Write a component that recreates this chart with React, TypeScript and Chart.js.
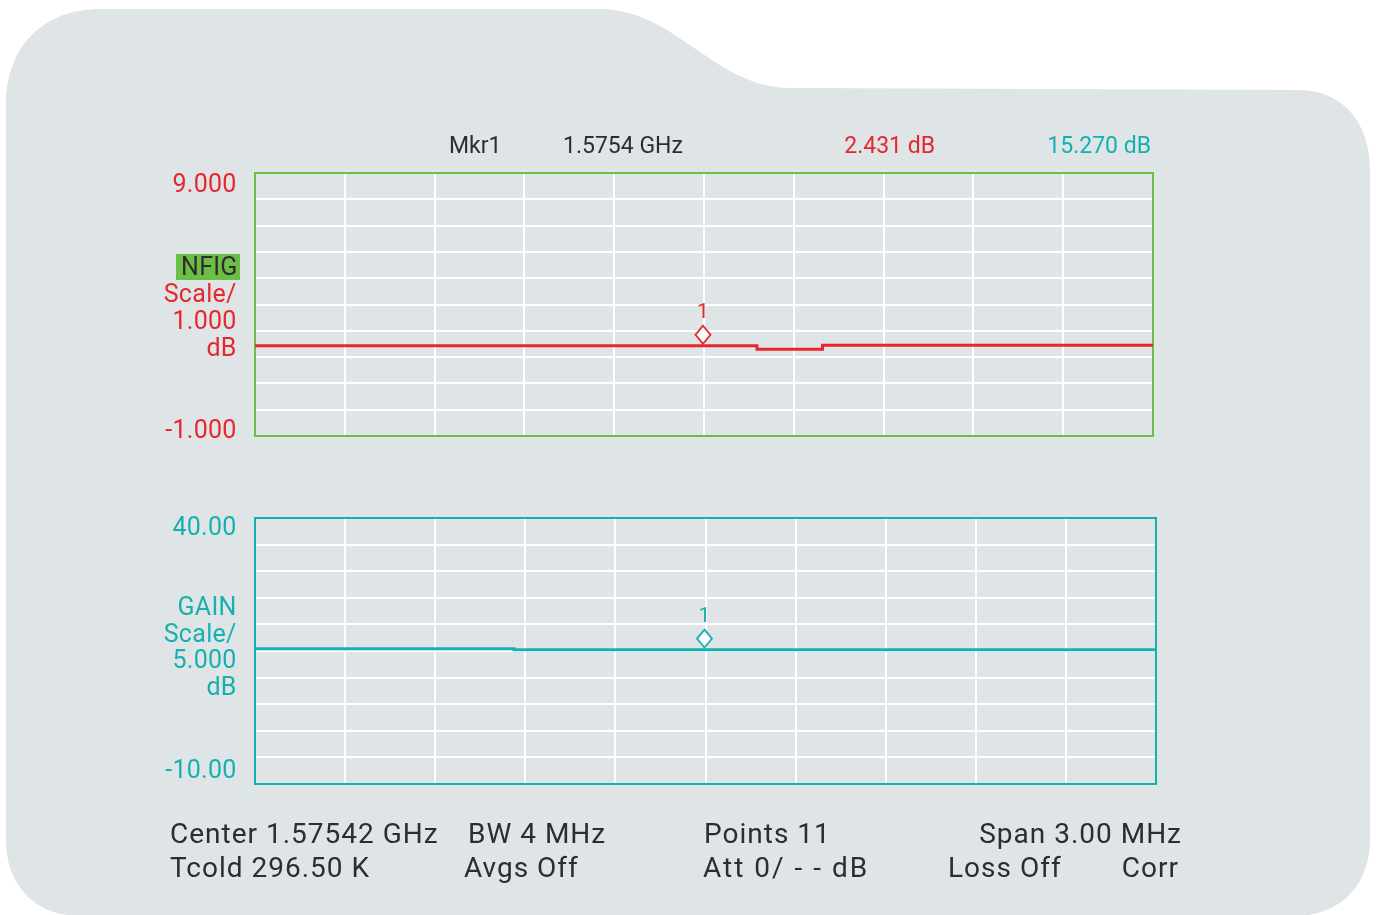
import React, { useEffect, useRef } from "react";
import { Chart, registerables } from "chart.js";

Chart.register(...registerables);

// ---------- data ----------
const xMin = 0; // point index of first sweep point
const xMax = 10; // point index of last sweep point (Points 11)
const nfigX = [0, 5.59, 6.32, 10];
const nfigY = [2.43, 2.3, 2.45, 2.45];
const gainX = [0, 2.875, 10];
const gainY = [15.4, 15.22, 15.22];
const markerIndex = 5;
const nfigMarkerValue = 2.431;
const gainMarkerValue = 15.27;
const nfigMin = -1;
const nfigMax = 9;
const nfigStep = 1;
const gainMin = -10;
const gainMax = 40;
const gainStep = 5;

const headerTexts = ["Mkr1", "1.5754 GHz", "2.431 dB", "15.270 dB"];
const nfigLabels = ["9.000", "NFIG", "Scale/", "1.000", "dB", "-1.000"];
const gainLabels = ["40.00", "GAIN", "Scale/", "5.000", "dB", "-10.00"];
const footerRow1 = ["Center 1.57542 GHz", "BW 4 MHz", "Points 11", "Span 3.00 MHz"];
const footerRow2 = ["Tcold 296.50 K", "Avgs Off", "Att 0/ - - dB", "Loss Off", "Corr"];
const markerLabel = "1";

// ---------- styles ----------
const RED = "#e8262e";
const TEAL = "#17b0b0";
const GREEN = "#6cbf45";
const DARK = "#2d2d2d";
const BG = "#dfe4e6";
const FONT = "Roboto";

function text(
  ctx: CanvasRenderingContext2D,
  s: string,
  x: number,
  cy: number,
  size: number,
  color: string,
  align: CanvasTextAlign,
  spacing = 0
) {
  ctx.save();
  ctx.font = `${size}px ${FONT}`;
  ctx.fillStyle = color;
  ctx.textAlign = align;
  ctx.textBaseline = "alphabetic";
  (ctx as any).letterSpacing = `${spacing}px`;
  const dx = align === "right" ? -spacing : 0;
  ctx.fillText(s, x + dx, cy + size * 0.355);
  ctx.restore();
}

function drawShape(ctx: CanvasRenderingContext2D) {
  ctx.save();
  ctx.fillStyle = "#ffffff";
  ctx.fillRect(0, 0, 1379, 915);
  ctx.beginPath();
  ctx.moveTo(6, 105);
  ctx.bezierCurveTo(6, 45, 45, 9, 100, 9);
  ctx.lineTo(600, 9);
  ctx.bezierCurveTo(675, 9, 715, 88, 790, 88);
  ctx.lineTo(1298, 90);
  ctx.bezierCurveTo(1345, 90, 1370, 125, 1370, 170);
  ctx.lineTo(1370, 840);
  ctx.bezierCurveTo(1370, 885, 1340, 916, 1295, 916);
  ctx.lineTo(80, 916);
  ctx.bezierCurveTo(35, 916, 6, 885, 6, 840);
  ctx.closePath();
  ctx.fillStyle = BG;
  ctx.fill();
  ctx.restore();
}

function drawBox(chart: any, color: string) {
  const { ctx, chartArea } = chart;
  ctx.save();
  ctx.strokeStyle = color;
  ctx.lineWidth = 2;
  ctx.strokeRect(chartArea.left, chartArea.top, chartArea.right - chartArea.left, chartArea.bottom - chartArea.top);
  ctx.restore();
}

function drawMarker(chart: any, value: number, color: string) {
  const { ctx } = chart;
  const cx = chart.scales.x.getPixelForValue(markerIndex) - 1;
  const cy = chart.scales.y.getPixelForValue(value) - 11;
  ctx.save();
  ctx.beginPath();
  ctx.moveTo(cx, cy - 9);
  ctx.lineTo(cx + 7.5, cy);
  ctx.lineTo(cx, cy + 9);
  ctx.lineTo(cx - 7.5, cy);
  ctx.closePath();
  ctx.fillStyle = "#ffffff";
  ctx.fill();
  ctx.strokeStyle = color;
  ctx.lineWidth = 1.8;
  ctx.stroke();
  ctx.restore();
  text(ctx, markerLabel, cx, cy - 24, 21, color, "center");
}

function scaleOpts(min: number, max: number, step: number) {
  return {
    type: "linear" as const,
    min,
    max,
    ticks: { display: false, stepSize: step },
    grid: { color: "#ffffff", lineWidth: 2, drawTicks: false },
    border: { display: false },
  };
}

export default function App() {
  const topRef = useRef<HTMLCanvasElement>(null);
  const botRef = useRef<HTMLCanvasElement>(null);

  useEffect(() => {
    document.body.style.margin = "0";
    const FS = 28;
    const LS = 1;
    const topPlugin = {
      id: "topDecor",
      beforeDraw(chart: any) {
        const ctx = chart.ctx;
        drawShape(ctx);
        // header
        text(ctx, headerTexts[0], 449, 145, 23, DARK, "left");
        text(ctx, headerTexts[1], 563, 145, 23, DARK, "left");
        text(ctx, headerTexts[2], 935, 145, 23, RED, "right");
        text(ctx, headerTexts[3], 1151, 145, 23, TEAL, "right");
        // axis labels
        const y = chart.scales.y;
        const top = y.getPixelForValue(nfigMax);
        const bot = y.getPixelForValue(nfigMin);
        ctx.save();
        ctx.fillStyle = GREEN;
        ctx.fillRect(176, 254, 64, 26);
        ctx.restore();
        text(ctx, nfigLabels[0], 237, top + 10, 25, RED, "right", 0.3);
        text(ctx, nfigLabels[1], 238, 266, 25, DARK, "right", 0.3);
        text(ctx, nfigLabels[2], 237, 293, 25, RED, "right", 0.3);
        text(ctx, nfigLabels[3], 237, 320, 25, RED, "right", 0.3);
        text(ctx, nfigLabels[4], 237, 347, 25, RED, "right", 0.3);
        text(ctx, nfigLabels[5], 237, bot - 7, 25, RED, "right", 0.3);
        // footer
        text(ctx, footerRow1[0], 170, 833, FS, DARK, "left", LS);
        text(ctx, footerRow1[1], 468, 833, FS, DARK, "left", LS);
        text(ctx, footerRow1[2], 704, 833, FS, DARK, "left", LS);
        text(ctx, footerRow1[3], 1183, 833, FS, DARK, "right", LS);
        text(ctx, footerRow2[0], 170, 867, FS, DARK, "left", LS);
        text(ctx, footerRow2[1], 464, 867, FS, DARK, "left", LS);
        text(ctx, footerRow2[2], 703, 867, FS, DARK, "left", 2);
        text(ctx, footerRow2[3], 948, 867, FS, DARK, "left", LS);
        text(ctx, footerRow2[4], 1180, 867, FS, DARK, "right", LS);
      },
      beforeDatasetsDraw(chart: any) {
        drawBox(chart, GREEN);
      },
      afterDatasetsDraw(chart: any) {
        drawMarker(chart, nfigMarkerValue, RED);
      },
    };
    const botPlugin = {
      id: "botDecor",
      beforeDraw(chart: any) {
        const ctx = chart.ctx;
        const y = chart.scales.y;
        const top = y.getPixelForValue(gainMax);
        const bot = y.getPixelForValue(gainMin);
        text(ctx, gainLabels[0], 237, top + 8, 25, TEAL, "right", 0.3);
        text(ctx, gainLabels[1], 237, 606, 25, TEAL, "right", 0.3);
        text(ctx, gainLabels[2], 237, 633, 25, TEAL, "right", 0.3);
        text(ctx, gainLabels[3], 237, 659, 25, TEAL, "right", 0.3);
        text(ctx, gainLabels[4], 237, 686, 25, TEAL, "right", 0.3);
        text(ctx, gainLabels[5], 237, bot - 15, 25, TEAL, "right", 0.3);
      },
      beforeDatasetsDraw(chart: any) {
        drawBox(chart, TEAL);
      },
      afterDatasetsDraw(chart: any) {
        drawMarker(chart, gainMarkerValue, TEAL);
      },
    };

    const topChart = new Chart(topRef.current!, {
      type: "line",
      data: {
        datasets: [
          {
            label: "NFIG",
            data: nfigX.map((x, i) => ({ x, y: nfigY[i] })),
            borderColor: RED,
            borderWidth: 3,
            pointRadius: 0,
            stepped: true,
            fill: false,
          },
        ],
      },
      options: {
        animation: false,
        responsive: false,
        layout: { padding: { left: 255, top: 173, right: 226, bottom: 479 } },
        plugins: { legend: { display: false }, tooltip: { enabled: false }, title: { display: false } },
        scales: {
          x: scaleOpts(xMin, xMax, 1),
          y: scaleOpts(nfigMin, nfigMax, nfigStep),
        },
      },
      plugins: [topPlugin],
    });

    const botChart = new Chart(botRef.current!, {
      type: "line",
      data: {
        datasets: [
          {
            label: "GAIN",
            data: gainX.map((x, i) => ({ x, y: gainY[i] })),
            borderColor: TEAL,
            borderWidth: 3,
            pointRadius: 0,
            stepped: true,
            fill: false,
          },
        ],
      },
      options: {
        animation: false,
        responsive: false,
        layout: { padding: { left: 255, top: 518, right: 223, bottom: 131 } },
        plugins: { legend: { display: false }, tooltip: { enabled: false }, title: { display: false } },
        scales: {
          x: scaleOpts(xMin, xMax, 1),
          y: scaleOpts(gainMin, gainMax, gainStep),
        },
      },
      plugins: [botPlugin],
    });

    return () => {
      topChart.destroy();
      botChart.destroy();
    };
  }, []);

  return (
    <div style={{ position: "absolute", left: 0, top: 0, width: 1379, height: 915 }}>
      <canvas ref={topRef} width={1379} height={915} style={{ position: "absolute", left: 0, top: 0 }} />
      <canvas ref={botRef} width={1379} height={915} style={{ position: "absolute", left: 0, top: 0 }} />
    </div>
  );
}
